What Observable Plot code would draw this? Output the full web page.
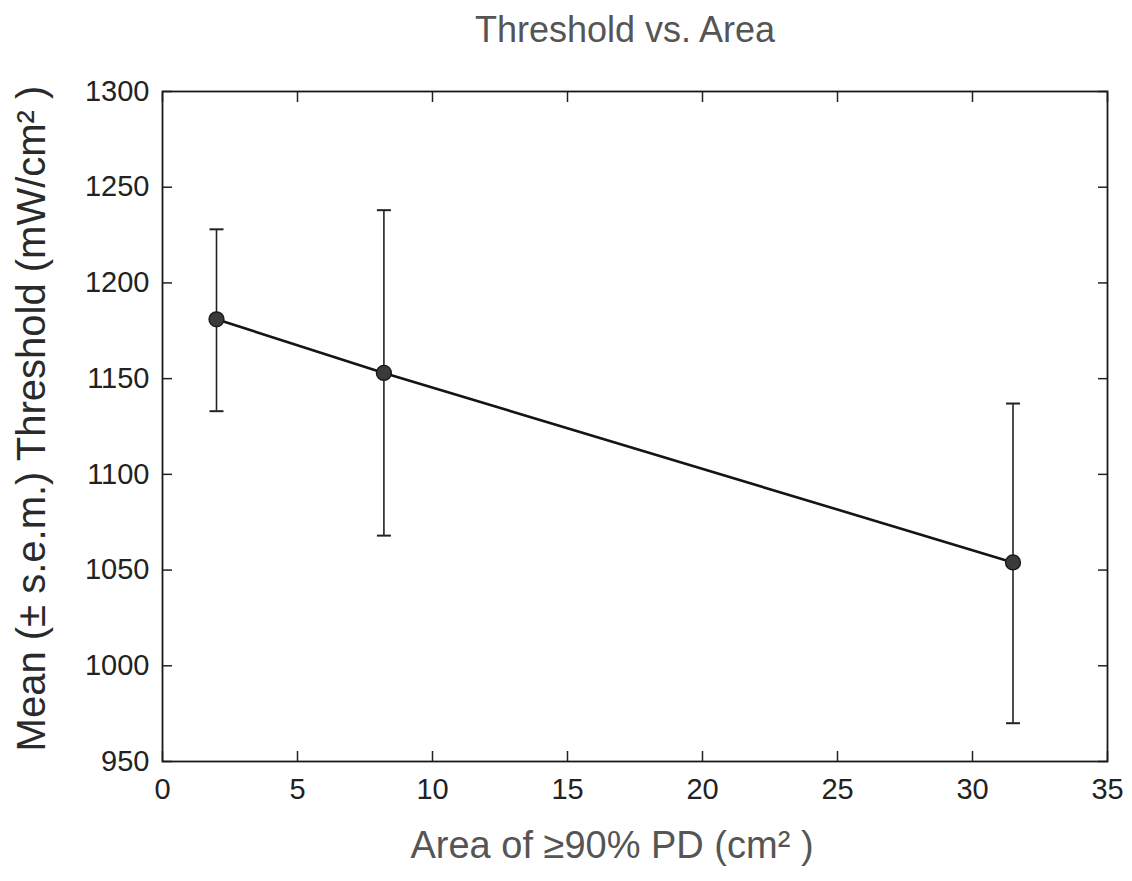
<!DOCTYPE html>
<html>
<head>
<meta charset="utf-8">
<script src="https://cdn.jsdelivr.net/npm/d3@7"></script>
<script src="https://cdn.jsdelivr.net/npm/@observablehq/plot@0.6"></script>
<style>
  html, body { margin: 0; padding: 0; background: #fff; }
  #title {
    width: 1132px; height: 60px; box-sizing: border-box;
    padding-left: 118px; text-align: center;
    font-family: "Liberation Sans", Arial, sans-serif;
    font-size: 36px; line-height: 60px; color: #555;
  }
</style>
</head>
<body>
<div id="title">Threshold vs. Area</div>
<div id="chart"></div>
<script>
// ---- data ----
const areas = [2.0, 8.2, 31.5];          // x: Area of >=90% PD (cm^2)
const means = [1181, 1153, 1054];       // mean threshold (mW/cm^2)
const lows  = [1133, 1068, 970];        // mean - s.e.m.
const highs = [1228, 1238, 1137];       // mean + s.e.m.
const xTicks = [0, 5, 10, 15, 20, 25, 30, 35];
const yTicks = [950, 1000, 1050, 1100, 1150, 1200, 1250, 1300];
const xLabel = "Area of \u226590% PD (cm\u00B2 )";
const yLabel = "Mean (\u00B1 s.e.m.) Threshold (mW/cm\u00B2 )";

const rows = areas.map((a, i) => ({x: a, y: means[i], lo: lows[i], hi: highs[i]}));

// horizontal cap symbol for error bars
const capSymbol = {
  draw(context, size) {
    const w = Math.sqrt(size / Math.PI);
    context.moveTo(-w, 0);
    context.lineTo(w, 0);
  }
};

const font = "'Liberation Sans', Arial, sans-serif";
const fmt = d => String(d);

const chart = Plot.plot({
  width: 1132,
  height: 821,
  marginTop: 31,
  marginBottom: 120,
  marginLeft: 162,
  marginRight: 25,
  style: {fontFamily: font, fontSize: "29px", color: "#222", background: "#fff"},
  x: {domain: [0, 35], ticks: xTicks},
  y: {domain: [950, 1300], ticks: yTicks},
  marks: [
    // inward ticks on all four sides
    Plot.axisY(yTicks, {anchor: "left", tickSize: 10, dx: 10, text: null, label: null, stroke: "#222", strokeWidth: 1.5}),
    Plot.axisY(yTicks, {anchor: "right", tickSize: 10, dx: -10, text: null, label: null, stroke: "#222", strokeWidth: 1.5}),
    Plot.axisX(xTicks, {anchor: "bottom", tickSize: 10, dy: -10, text: null, label: null, stroke: "#222", strokeWidth: 1.5}),
    Plot.axisX(xTicks, {anchor: "top", tickSize: 10, dy: 10, text: null, label: null, stroke: "#222", strokeWidth: 1.5}),
    // tick labels
    Plot.axisY(yTicks, {anchor: "left", tickSize: 0, tickPadding: 13, label: null, tickFormat: fmt, fill: "#222", fontSize: 29}),
    Plot.axisX(xTicks, {anchor: "bottom", tickSize: 0, tickPadding: 17, label: null, tickFormat: fmt, fill: "#222", fontSize: 29}),
    Plot.frame({stroke: "#1a1a1a", strokeWidth: 1.8}),
    // error bars
    Plot.ruleX(rows, {x: "x", y1: "lo", y2: "hi", stroke: "#222", strokeWidth: 1.6}),
    Plot.dot(rows, {x: "x", y: "hi", symbol: capSymbol, r: 7, stroke: "#222", strokeWidth: 2, fill: "none"}),
    Plot.dot(rows, {x: "x", y: "lo", symbol: capSymbol, r: 7, stroke: "#222", strokeWidth: 2, fill: "none"}),
    // mean line and markers
    Plot.line(rows, {x: "x", y: "y", stroke: "#151515", strokeWidth: 2.6}),
    Plot.dot(rows, {x: "x", y: "y", r: 7.5, fill: "#3a3a3a", stroke: "#151515", strokeWidth: 1.3}),
    // axis titles
    Plot.text([xLabel], {frameAnchor: "bottom", text: d => d, textAnchor: "middle", dx: -23, dy: 84, lineAnchor: "middle", fontSize: 38, fill: "#555"}),
    Plot.text([yLabel], {frameAnchor: "left", text: d => d, textAnchor: "middle", rotate: -90, dx: -130, dy: -8, lineAnchor: "middle", fontSize: 40, fill: "#2a2a2a"})
  ]
});
document.getElementById("chart").appendChild(chart);
</script>
</body>
</html>
